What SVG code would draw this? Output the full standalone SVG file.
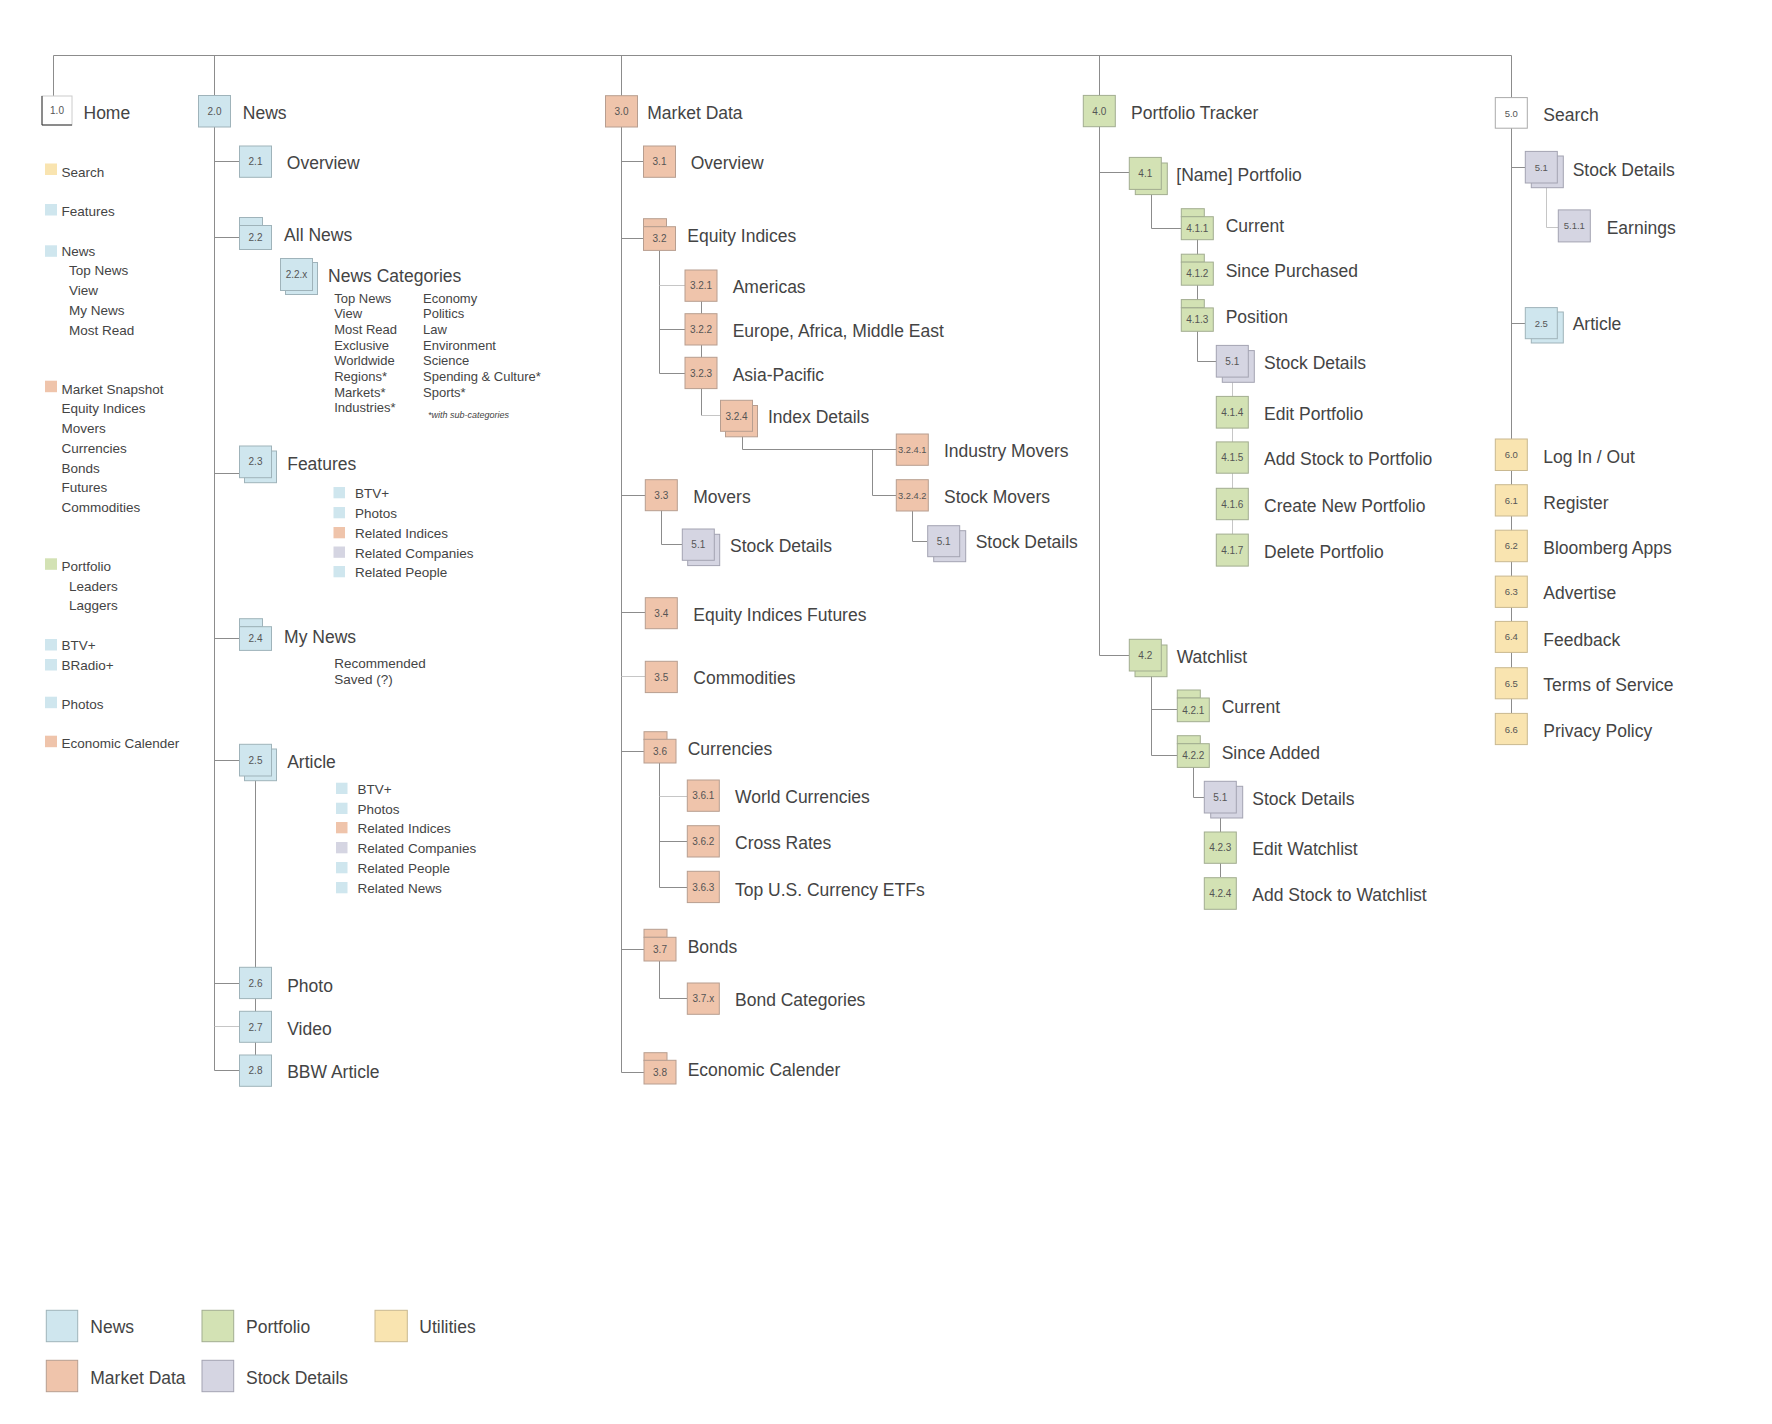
<svg xmlns="http://www.w3.org/2000/svg" width="1772" height="1424" viewBox="0 0 1772 1424">
<style>
text{font-family:"Liberation Sans",Arial,Helvetica,sans-serif;fill:#444}
.t{font-size:17.5px}
.s{font-size:13.5px}
.c{font-size:13px}
.n{font-size:10px;text-anchor:middle;fill:#555}
.nw{fill:#cfe6ee;stroke:#9fb3ba;stroke-width:1}
.md{fill:#efc4ab;stroke:#b79e90;stroke-width:1}
.pf{fill:#d3e2b4;stroke:#a2ad90;stroke-width:1}
.ut{fill:#f9e4b0;stroke:#c9b890;stroke-width:1}
.sd{fill:#d5d5e2;stroke:#a3a3b2;stroke-width:1}
.wh{fill:#fff;stroke:#aaa;stroke-width:1}
.ln{fill:none;stroke:#8c8c8c;stroke-width:1}
.lt{fill:none;stroke:#c6c6c6;stroke-width:1}
.bn{fill:#cfe6ee}.bm{fill:#efc4ab}.bp{fill:#d3e2b4}.bu{fill:#f9e4b0}.bs{fill:#d5d5e2}
</style>
<rect width="1772" height="1424" fill="#fff"/>
<g id="connectors">
<path class="ln" d="M53.5 55.5H1511.5M53.5 55.5V96M214.5 55.5V1070.5M621.5 55.5V1072.5M1099.5 55.5V655.5H1129M1511.5 55.5V98M1511.5 128V713"/>
<path class="ln" d="M214.5 161.5H239M214.5 237.5H239M214.5 473.5H239M214.5 638.5H239M214.5 760.5H239M214.5 983.5H239M214.5 1070.5H239M255.5 776V1055"/>
<path class="lt" d="M214.5 1026.5H239"/>
<path class="ln" d="M621.5 161.5H643M621.5 238.5H643M621.5 495.5H645M621.5 612.5H645M621.5 751.5H644M621.5 949.5H644M621.5 1072.5H644"/>
<path class="lt" d="M621.5 676.5H645"/>
<path class="ln" d="M659.5 250V373.5H685M659.5 329.5H685M701.5 301V415.5"/>
<path class="lt" d="M659.5 285.5H685M701.5 415.5H720"/>
<path class="ln" d="M742.5 436V449.5H896M872.5 449.5V495.5H896M912.5 511V541.5H927M661.5 510V544.5H682"/>
<path class="ln" d="M659.5 763V887.5H687M659.5 841.5H687M659.5 961V998.5H687"/>
<path class="lt" d="M659.5 796.5H687"/>
<path class="ln" d="M1099.5 172.5H1129M1151.5 194V228.5H1181M1197.5 239V361.5H1216M1151.5 676V755.5H1177M1151.5 709.5H1177M1193.5 767V797.5H1204M1220.5 818V877"/>
<path class="lt" d="M1232.5 382V534"/>
<path class="ln" d="M1511.5 167.5H1525M1511.5 323.5H1525"/>
<path class="lt" d="M1546.5 187V227.5H1558"/>
</g>
<g id="n1-0"><rect class="wh" x="42" y="96" width="30" height="29" style="stroke:#ccc"/><path d="M42 96V125H72" fill="none" stroke="#333"/><text class="n" x="57" y="114">1.0</text><text class="t" x="83.5" y="119.3">Home</text></g>
<g id="home-list">
<rect class="bu" x="45" y="163.5" width="12" height="11.5"/><text class="s" x="61.4" y="176.7">Search</text>
<rect class="bn" x="45" y="204" width="12" height="11.5"/><text class="s" x="61.4" y="216">Features</text>
<rect class="bn" x="45" y="245.3" width="12" height="11.5"/><text class="s" x="61.4" y="256">News</text>
<text class="s" x="69" y="275">Top News</text><text class="s" x="69" y="295">View</text><text class="s" x="69" y="315">My News</text><text class="s" x="69" y="335">Most Read</text>
<rect class="bm" x="45" y="380.7" width="12" height="11.5"/><text class="s" x="61.4" y="394.3">Market Snapshot</text>
<text class="s" x="61.4" y="413.3">Equity Indices</text><text class="s" x="61.4" y="433.3">Movers</text><text class="s" x="61.4" y="453.3">Currencies</text><text class="s" x="61.4" y="473.3">Bonds</text><text class="s" x="61.4" y="492.3">Futures</text><text class="s" x="61.4" y="512.3">Commodities</text>
<rect class="bp" x="45" y="558.3" width="12" height="11.5"/><text class="s" x="61.4" y="571">Portfolio</text>
<text class="s" x="69" y="591">Leaders</text><text class="s" x="69" y="610">Laggers</text>
<rect class="bn" x="45" y="639" width="12" height="11.5"/><text class="s" x="61.4" y="650">BTV+</text>
<rect class="bn" x="45" y="659" width="12" height="11.5"/><text class="s" x="61.4" y="670">BRadio+</text>
<rect class="bn" x="45" y="696.7" width="12" height="11.5"/><text class="s" x="61.4" y="709">Photos</text>
<rect class="bm" x="45" y="735.7" width="12" height="11.5"/><text class="s" x="61.4" y="747.7">Economic Calender</text>
</g>
<g id="n2-0"><rect class="nw" x="198.5" y="95.5" width="32" height="31.5"/><text class="n" x="214.5" y="114.8">2.0</text><text class="t" x="242.8" y="119.3">News</text></g>
<g id="n2-1"><rect class="nw" x="239.5" y="146" width="32" height="31.3"/><text class="n" x="255.5" y="165.3">2.1</text><text class="t" x="286.8" y="169.3">Overview</text></g>
<g id="n2-2"><rect class="nw" x="239.5" y="217.5" width="23" height="8"/><rect class="nw" x="239.5" y="225.5" width="32" height="24"/><text class="n" x="255.5" y="241.3">2.2</text><text class="t" x="284.1" y="241.3">All News</text></g>
<g id="n2-2-x"><rect class="nw" x="285.5" y="262.5" width="32" height="32"/><rect class="nw" x="280.5" y="258.5" width="32" height="32"/><text class="n" x="296.5" y="277.8">2.2.x</text><text class="t" x="328.1" y="281.7">News Categories</text>
<text class="c" x="334.2" y="302.7">Top News</text><text class="c" x="334.2" y="318.4">View</text><text class="c" x="334.2" y="334">Most Read</text><text class="c" x="334.2" y="349.7">Exclusive</text><text class="c" x="334.2" y="365.4">Worldwide</text><text class="c" x="334.2" y="381">Regions*</text><text class="c" x="334.2" y="396.7">Markets*</text><text class="c" x="334.2" y="412.4">Industries*</text>
<text class="c" x="423" y="302.7">Economy</text><text class="c" x="423" y="318.4">Politics</text><text class="c" x="423" y="334">Law</text><text class="c" x="423" y="349.7">Environment</text><text class="c" x="423" y="365.4">Science</text><text class="c" x="423" y="381">Spending &amp; Culture*</text><text class="c" x="423" y="396.7">Sports*</text>
<text x="428" y="418.3" font-size="9px" font-style="italic">*with sub-categories</text></g>
<g id="n2-3"><rect class="nw" x="244.5" y="451" width="32" height="31.7"/><rect class="nw" x="239.5" y="446" width="32" height="31.7"/><text class="n" x="255.5" y="465.3">2.3</text><text class="t" x="287.2" y="470">Features</text>
<rect class="bn" x="333.5" y="487" width="11.5" height="11.3"/><text class="s" x="354.9" y="498.3">BTV+</text>
<rect class="bn" x="333.5" y="507" width="11.5" height="11.3"/><text class="s" x="354.9" y="518.3">Photos</text>
<rect class="bm" x="333.5" y="527" width="11.5" height="11.3"/><text class="s" x="354.9" y="538.3">Related Indices</text>
<rect class="bs" x="333.5" y="546.5" width="11.5" height="11.3"/><text class="s" x="354.9" y="557.8">Related Companies</text>
<rect class="bn" x="333.5" y="566" width="11.5" height="11.3"/><text class="s" x="354.9" y="577.3">Related People</text></g>
<g id="n2-4"><rect class="nw" x="239.5" y="618.7" width="23" height="8"/><rect class="nw" x="239.5" y="626.7" width="32" height="23.7"/><text class="n" x="255.5" y="642.3">2.4</text><text class="t" x="284.1" y="642.7">My News</text>
<text class="s" x="334.2" y="668.3">Recommended</text><text class="s" x="334.2" y="684.3">Saved (?)</text></g>
<g id="n2-5"><rect class="nw" x="244.5" y="749" width="32" height="31.7"/><rect class="nw" x="239.5" y="744.3" width="32" height="31.7"/><text class="n" x="255.5" y="763.8">2.5</text><text class="t" x="287.2" y="768.3">Article</text>
<rect class="bn" x="336" y="782.7" width="11.5" height="11.3"/><text class="s" x="357.6" y="794">BTV+</text>
<rect class="bn" x="336" y="802.7" width="11.5" height="11.3"/><text class="s" x="357.6" y="814">Photos</text>
<rect class="bm" x="336" y="822" width="11.5" height="11.3"/><text class="s" x="357.6" y="833.3">Related Indices</text>
<rect class="bs" x="336" y="842" width="11.5" height="11.3"/><text class="s" x="357.6" y="853.3">Related Companies</text>
<rect class="bn" x="336" y="862" width="11.5" height="11.3"/><text class="s" x="357.6" y="873.3">Related People</text>
<rect class="bn" x="336" y="882" width="11.5" height="11.3"/><text class="s" x="357.6" y="893.3">Related News</text></g>
<g id="n2-6"><rect class="nw" x="239.5" y="967.3" width="32" height="31.3"/><text class="n" x="255.5" y="986.8">2.6</text><text class="t" x="287.2" y="991.7">Photo</text></g>
<g id="n2-7"><rect class="nw" x="239.5" y="1011.3" width="32" height="31"/><text class="n" x="255.5" y="1030.6">2.7</text><text class="t" x="287.2" y="1035">Video</text></g>
<g id="n2-8"><rect class="nw" x="239.5" y="1055" width="32" height="31.3"/><text class="n" x="255.5" y="1074.3">2.8</text><text class="t" x="287.2" y="1078.3">BBW Article</text></g>
<g id="n3-0"><rect class="md" x="605.5" y="95.7" width="32" height="31.3"/><text class="n" x="621.5" y="115">3.0</text><text class="t" x="647.3" y="119.3">Market Data</text></g>
<g id="n3-1"><rect class="md" x="643.5" y="146" width="32" height="31.3"/><text class="n" x="659.5" y="165.3">3.1</text><text class="t" x="690.7" y="169.3">Overview</text></g>
<g id="n3-2"><rect class="md" x="643.5" y="218.7" width="23" height="8"/><rect class="md" x="643.5" y="226.7" width="32" height="23.7"/><text class="n" x="659.5" y="242.3">3.2</text><text class="t" x="687.3" y="242">Equity Indices</text></g>
<g id="n3-2-1"><rect class="md" x="685" y="270" width="32" height="31.3"/><text class="n" x="701" y="289.3">3.2.1</text><text class="t" x="732.7" y="293.3">Americas</text></g>
<g id="n3-2-2"><rect class="md" x="685" y="313.7" width="32" height="31.3"/><text class="n" x="701" y="333">3.2.2</text><text class="t" x="732.7" y="337.3">Europe, Africa, Middle East</text></g>
<g id="n3-2-3"><rect class="md" x="685" y="357.3" width="32" height="31.3"/><text class="n" x="701" y="376.6">3.2.3</text><text class="t" x="732.7" y="381.3">Asia-Pacific</text></g>
<g id="n3-2-4"><rect class="md" x="725.5" y="405.5" width="32" height="31.3"/><rect class="md" x="720.5" y="400.3" width="32" height="31"/><text class="n" x="736.5" y="419.5">3.2.4</text><text class="t" x="768" y="422.7">Index Details</text></g>
<g id="n3-2-4-1"><rect class="md" x="896.3" y="434" width="32" height="31.3"/><text class="n" x="912.3" y="453" style="font-size:9.3px">3.2.4.1</text><text class="t" x="944" y="456.7">Industry Movers</text></g>
<g id="n3-2-4-2"><rect class="md" x="896.3" y="479.7" width="32" height="31.3"/><text class="n" x="912.3" y="498.7" style="font-size:9.3px">3.2.4.2</text><text class="t" x="944" y="503.3">Stock Movers</text></g>
<g id="n5-1-a"><rect class="sd" x="933.7" y="530.7" width="32" height="31"/><rect class="sd" x="927.7" y="525.7" width="32" height="31"/><text class="n" x="943.7" y="544.8">5.1</text><text class="t" x="975.7" y="548.3">Stock Details</text></g>
<g id="n3-3"><rect class="md" x="645.3" y="479.7" width="32" height="31"/><text class="n" x="661.3" y="498.8">3.3</text><text class="t" x="693.3" y="503.3">Movers</text></g>
<g id="n5-1-b"><rect class="sd" x="687.7" y="534.3" width="32" height="31.3"/><rect class="sd" x="682.3" y="529" width="32" height="31.3"/><text class="n" x="698.3" y="548.3">5.1</text><text class="t" x="730" y="552.3">Stock Details</text></g>
<g id="n3-4"><rect class="md" x="645.3" y="597.7" width="32" height="31"/><text class="n" x="661.3" y="616.8">3.4</text><text class="t" x="693.3" y="621">Equity Indices Futures</text></g>
<g id="n3-5"><rect class="md" x="645.3" y="661.3" width="32" height="31.3"/><text class="n" x="661.3" y="680.6">3.5</text><text class="t" x="693.3" y="684.3">Commodities</text></g>
<g id="n3-6"><rect class="md" x="644" y="731.7" width="23" height="8"/><rect class="md" x="644" y="739.3" width="32" height="23.7"/><text class="n" x="660" y="754.8">3.6</text><text class="t" x="687.7" y="755">Currencies</text></g>
<g id="n3-6-1"><rect class="md" x="687.3" y="780" width="32" height="31.3"/><text class="n" x="703.3" y="799.3">3.6.1</text><text class="t" x="735" y="802.7">World Currencies</text></g>
<g id="n3-6-2"><rect class="md" x="687.3" y="825.7" width="32" height="31.3"/><text class="n" x="703.3" y="845">3.6.2</text><text class="t" x="735" y="849.3">Cross Rates</text></g>
<g id="n3-6-3"><rect class="md" x="687.3" y="871.3" width="32" height="31.3"/><text class="n" x="703.3" y="890.6">3.6.3</text><text class="t" x="735" y="895.7">Top U.S. Currency ETFs</text></g>
<g id="n3-7"><rect class="md" x="644" y="929.3" width="23" height="8"/><rect class="md" x="644" y="937.3" width="32" height="23.7"/><text class="n" x="660" y="952.8">3.7</text><text class="t" x="687.7" y="952.7">Bonds</text></g>
<g id="n3-7-x"><rect class="md" x="687.3" y="983" width="32" height="31.3"/><text class="n" x="703.3" y="1002.3">3.7.x</text><text class="t" x="735" y="1005.7">Bond Categories</text></g>
<g id="n3-8"><rect class="md" x="644" y="1052.7" width="23" height="8"/><rect class="md" x="644" y="1060.3" width="32" height="23.7"/><text class="n" x="660" y="1075.8">3.8</text><text class="t" x="687.7" y="1076">Economic Calender</text></g>
<g id="n4-0"><rect class="pf" x="1083.3" y="95.4" width="32" height="31.3"/><text class="n" x="1099.3" y="114.7">4.0</text><text class="t" x="1131" y="119.2">Portfolio Tracker</text></g>
<g id="n4-1"><rect class="pf" x="1135.3" y="163" width="32" height="31.6"/><rect class="pf" x="1129.3" y="157.4" width="32" height="32"/><text class="n" x="1145.3" y="177">4.1</text><text class="t" x="1176.3" y="181.2">[Name] Portfolio</text></g>
<g id="n4-1-1"><rect class="pf" x="1181.3" y="208.7" width="23" height="8"/><rect class="pf" x="1181.3" y="216.7" width="32" height="23"/><text class="n" x="1197.3" y="231.8">4.1.1</text><text class="t" x="1225.7" y="232.2">Current</text></g>
<g id="n4-1-2"><rect class="pf" x="1181.3" y="254.2" width="23" height="8"/><rect class="pf" x="1181.3" y="262.1" width="32" height="23.1"/><text class="n" x="1197.3" y="277.3">4.1.2</text><text class="t" x="1225.7" y="276.9">Since Purchased</text></g>
<g id="n4-1-3"><rect class="pf" x="1181.3" y="299.6" width="23" height="8"/><rect class="pf" x="1181.3" y="307.9" width="32" height="23.4"/><text class="n" x="1197.3" y="323.3">4.1.3</text><text class="t" x="1225.7" y="323">Position</text></g>
<g id="n5-1-c"><rect class="sd" x="1222.3" y="350.6" width="32" height="31.7"/><rect class="sd" x="1216.3" y="345.4" width="32" height="31.7"/><text class="n" x="1232.3" y="365">5.1</text><text class="t" x="1264" y="369.2">Stock Details</text></g>
<g id="n4-1-4"><rect class="pf" x="1216.3" y="396.4" width="32" height="31.7"/><text class="n" x="1232.3" y="416">4.1.4</text><text class="t" x="1264" y="419.8">Edit Portfolio</text></g>
<g id="n4-1-5"><rect class="pf" x="1216.3" y="441.9" width="32" height="31.3"/><text class="n" x="1232.3" y="461.3">4.1.5</text><text class="t" x="1264" y="465.3">Add Stock to Portfolio</text></g>
<g id="n4-1-6"><rect class="pf" x="1216.3" y="488.3" width="32" height="31.4"/><text class="n" x="1232.3" y="507.7">4.1.6</text><text class="t" x="1264" y="511.8">Create New Portfolio</text></g>
<g id="n4-1-7"><rect class="pf" x="1216.3" y="534.1" width="32" height="32"/><text class="n" x="1232.3" y="553.8">4.1.7</text><text class="t" x="1264" y="557.6">Delete Portfolio</text></g>
<g id="n4-2"><rect class="pf" x="1135" y="645" width="32" height="31.7"/><rect class="pf" x="1129.3" y="639.3" width="32" height="31.7"/><text class="n" x="1145.3" y="658.9">4.2</text><text class="t" x="1176.7" y="662.7">Watchlist</text></g>
<g id="n4-2-1"><rect class="pf" x="1177.3" y="690" width="23" height="8"/><rect class="pf" x="1177.3" y="698" width="32" height="23.7"/><text class="n" x="1193.3" y="713.6">4.2.1</text><text class="t" x="1221.7" y="713.3">Current</text></g>
<g id="n4-2-2"><rect class="pf" x="1177.3" y="735.7" width="23" height="8"/><rect class="pf" x="1177.3" y="743.7" width="32" height="23.7"/><text class="n" x="1193.3" y="759.3">4.2.2</text><text class="t" x="1221.7" y="759.3">Since Added</text></g>
<g id="n5-1-d"><rect class="sd" x="1210.7" y="786.3" width="32" height="31.7"/><rect class="sd" x="1204.3" y="781.3" width="32" height="31.7"/><text class="n" x="1220.3" y="800.8">5.1</text><text class="t" x="1252.3" y="805">Stock Details</text></g>
<g id="n4-2-3"><rect class="pf" x="1204.3" y="832" width="32" height="31.3"/><text class="n" x="1220.3" y="851.3">4.2.3</text><text class="t" x="1252.3" y="854.7">Edit Watchlist</text></g>
<g id="n4-2-4"><rect class="pf" x="1204.3" y="877.7" width="32" height="31.6"/><text class="n" x="1220.3" y="897.1">4.2.4</text><text class="t" x="1252.3" y="900.7">Add Stock to Watchlist</text></g>
<g id="n5-0"><rect class="wh" x="1495.3" y="97.6" width="32" height="30.6"/><text class="n" x="1511.3" y="116.5" style="font-size:9.5px">5.0</text><text class="t" x="1543.3" y="121.2">Search</text></g>
<g id="n5-1"><rect class="sd" x="1531.3" y="156" width="32" height="31.7"/><rect class="sd" x="1525.3" y="151.4" width="32" height="31.6"/><text class="n" x="1541.3" y="170.7" style="font-size:9.5px">5.1</text><text class="t" x="1572.7" y="175.9">Stock Details</text></g>
<g id="n5-1-1"><rect class="sd" x="1558.3" y="209.9" width="32" height="32"/><text class="n" x="1574.3" y="229.4" style="font-size:9.5px">5.1.1</text><text class="t" x="1606.7" y="234.4">Earnings</text></g>
<g id="n2-5-b"><rect class="nw" x="1531.3" y="312" width="32" height="31"/><rect class="nw" x="1525.3" y="307.6" width="32" height="31.1"/><text class="n" x="1541.3" y="326.7" style="font-size:9.5px">2.5</text><text class="t" x="1572.7" y="330.2">Article</text></g>
<g id="n6-0"><rect class="ut" x="1495.3" y="439" width="32" height="31.5"/><text class="n" x="1511.3" y="458.2" style="font-size:9.5px">6.0</text><text class="t" x="1543.3" y="463.3">Log In / Out</text></g>
<g id="n6-1"><rect class="ut" x="1495.3" y="484.7" width="32" height="31.3"/><text class="n" x="1511.3" y="503.9" style="font-size:9.5px">6.1</text><text class="t" x="1543.3" y="508.6">Register</text></g>
<g id="n6-2"><rect class="ut" x="1495.3" y="530.2" width="32" height="31.5"/><text class="n" x="1511.3" y="549.4" style="font-size:9.5px">6.2</text><text class="t" x="1543.3" y="554.4">Bloomberg Apps</text></g>
<g id="n6-3"><rect class="ut" x="1495.3" y="576.1" width="32" height="31.3"/><text class="n" x="1511.3" y="595.2" style="font-size:9.5px">6.3</text><text class="t" x="1543.3" y="599.2">Advertise</text></g>
<g id="n6-4"><rect class="ut" x="1495.3" y="621.4" width="32" height="31"/><text class="n" x="1511.3" y="640.4" style="font-size:9.5px">6.4</text><text class="t" x="1543.3" y="645.5">Feedback</text></g>
<g id="n6-5"><rect class="ut" x="1495.3" y="667.7" width="32" height="31.1"/><text class="n" x="1511.3" y="686.7" style="font-size:9.5px">6.5</text><text class="t" x="1543.3" y="691.3">Terms of Service</text></g>
<g id="n6-6"><rect class="ut" x="1495.3" y="713.4" width="32" height="31.2"/><text class="n" x="1511.3" y="732.5" style="font-size:9.5px">6.6</text><text class="t" x="1543.3" y="737">Privacy Policy</text></g>
<g id="legend">
<rect class="nw" x="46.3" y="1310.3" width="31.4" height="31.4"/><text class="t" x="90.3" y="1333.3">News</text>
<rect class="pf" x="202" y="1310.3" width="31.7" height="31.4"/><text class="t" x="246" y="1333.3">Portfolio</text>
<rect class="ut" x="375" y="1310.3" width="32.3" height="31.4"/><text class="t" x="419.3" y="1333.3">Utilities</text>
<rect class="md" x="46.3" y="1360.3" width="31.4" height="31.4"/><text class="t" x="90.3" y="1384">Market Data</text>
<rect class="sd" x="202" y="1360.3" width="31.7" height="31.4"/><text class="t" x="246" y="1384">Stock Details</text>
</g>
</svg>
